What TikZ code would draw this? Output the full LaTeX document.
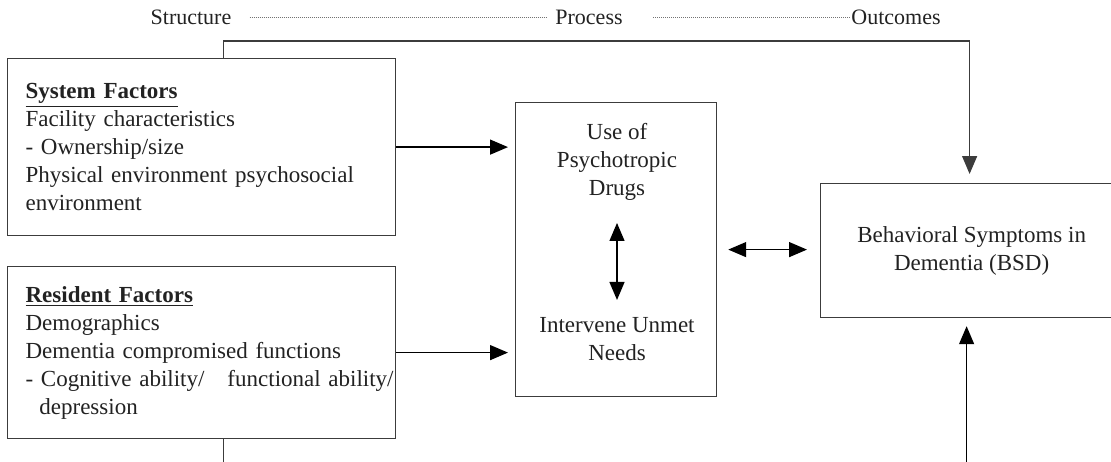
\documentclass[tikz,border=0pt]{standalone}
\usepackage{fontspec}
\setmainfont{Liberation Serif}
\usepackage{tikz}
\usetikzlibrary{arrows.meta,positioning,calc}
\definecolor{cLine}{HTML}{3C3C3C}
\definecolor{cText}{HTML}{222222}
\tikzset{
  box/.style   ={draw=cLine,line width=0.6pt,fill=white,inner sep=0pt,
                 font=\fontsize{11.5pt}{14pt}\selectfont,text=cText},
  fac/.style   ={box,align=left,text width=176pt,minimum width=194pt},
  txt/.style   ={inner sep=0pt,align=center,text=cText,
                 font=\fontsize{11.5pt}{14pt}\selectfont},
  lbl/.style   ={txt,font=\fontsize{11pt}{13pt}\selectfont},
  sig/.style   ={-{Triangle[length=9pt,width=7.5pt]},draw=black,line width=0.65pt},
  dsig/.style  ={{Triangle[length=9pt,width=7.5pt]}-{Triangle[length=9pt,width=7.5pt]},
                 draw=black,line width=0.65pt},
  wire/.style  ={draw=cLine,line width=0.65pt},
  dots/.style  ={draw=black!55,line width=0.3pt,dash pattern=on 0.35pt off 0.65pt},
}

\begin{document}
\begin{tikzpicture}[x=0.5pt, y=-0.5pt]
\useasboundingbox (0,0) rectangle (1111,461);

% stage labels along the top
\node[lbl] (stru) at (191,17) {Structure};
\node[lbl] (proc) at (589,17) {Process};
\node[lbl] (outc) at (896,17) {Outcomes};
\draw[dots,shorten <=9pt,shorten >=4pt] (stru.east) -- (proc.west);
\draw[dots,shorten <=15pt] (proc.east) -- (outc.west);

\node[fac,anchor=north west,minimum height=88.5pt] (sysf) at (7,58)
  {\underline{\textbf{System Factors}}\\
   Facility characteristics\\
   - Ownership/size\\
   Physical environment psychosocial\\
   environment};

\node[fac,anchor=north west,minimum height=86pt] (resf) at (7,266)
  {\underline{\textbf{Resident Factors}}\\
   Demographics\\
   Dementia compromised functions\\
   \makebox[\linewidth][s]{- Cognitive ability/\quad functional ability/}\\
   \hspace*{0.6em}depression};

\node[box,anchor=north west,minimum width=100.5pt,minimum height=147pt] (mid) at (515,102) {};
\node[txt] (drug) at (617,162) {Use of\\Psychotropic\\Drugs};
\node[txt] (need) at (617,339) {Intervene Unmet\\Needs};
\draw[dsig,shorten <=11pt,shorten >=8.5pt] (drug.south) -- (need.north);

\node[box,align=center,anchor=north west,minimum width=151pt,minimum height=67pt]
  (bsd) at (820,183) {Behavioral Symptoms in\\Dementia (BSD)};

% factors feed the process box
\draw[sig,shorten >=3.5pt] (sysf.east) -- (sysf.east -| mid.west);
\draw[sig,shorten >=3.5pt] (resf.east) -- (resf.east -| mid.west);
\draw[dsig,shorten <=5.5pt,shorten >=6.5pt] (mid.east) -- (mid.east -| bsd.west);

% direct structure -> outcome paths, the lower ones run off the page
\coordinate (rail)  at (0,41);
\coordinate (floor) at (0,475);
\coordinate (sysup) at ([xshift=11pt]sysf.north);
\coordinate (resdn) at ([xshift=11pt]resf.south);
\coordinate (bsdin) at ([xshift=-1pt]bsd.north);
\coordinate (bsdup) at ([xshift=-2.5pt]bsd.south);
\draw[sig,draw=cLine,shorten >=4.5pt] (sysup) |- (rail -| bsdin) -- (bsdin);
\draw[wire] (resdn) -- (resdn |- floor);
\draw[sig,shorten >=4pt] (bsdup |- floor) -- (bsdup);
\end{tikzpicture}
\end{document}
